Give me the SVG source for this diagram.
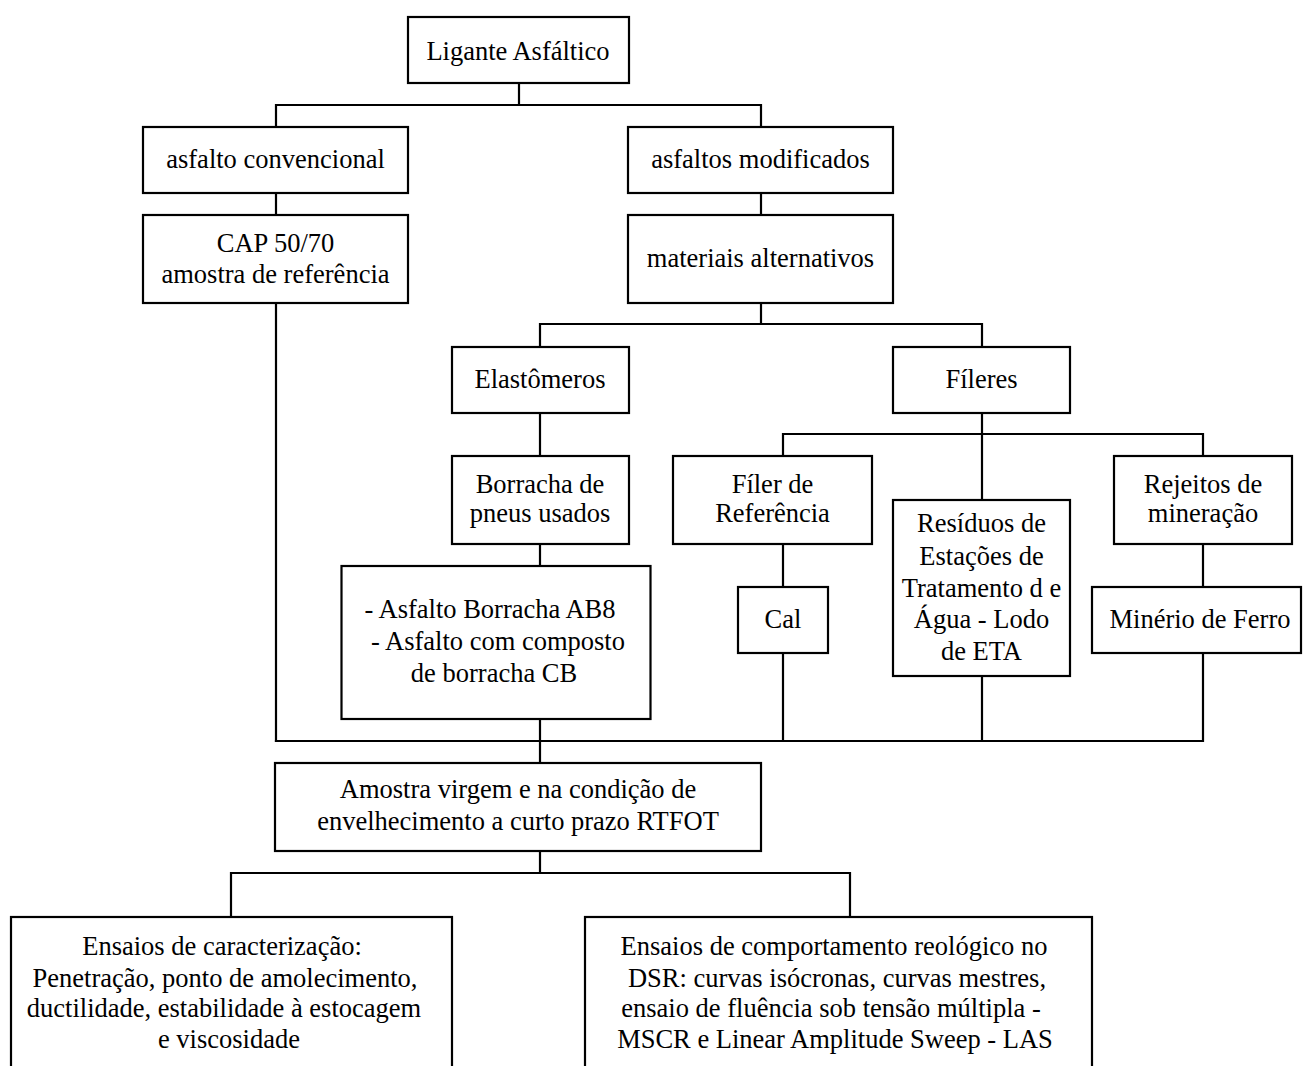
<svg xmlns="http://www.w3.org/2000/svg" width="1303" height="1066" viewBox="0 0 1303 1066">
  <style>
    .box { fill: #ffffff; stroke: #000000; stroke-width: 2.2; }
    .wire { fill: none; stroke: #000000; stroke-width: 2.2; stroke-linecap: square; }
    text { font-family: "Liberation Serif", "Times New Roman", serif; font-size: 26.5px; fill: #000000; text-anchor: middle; }
  </style>
  <rect x="0" y="0" width="1303" height="1066" fill="#ffffff"/>

  <!-- tree connectors -->
  <g id="connectors">
    <path class="wire" d="M519 83 V105 M276 105 H761 M276 105 V127 M761 105 V127"/>
    <path class="wire" d="M276 193 V215 M761 193 V215"/>
    <path class="wire" d="M276 303 V741"/>
    <path class="wire" d="M761 303 V324 M540 324 H982 M540 324 V347 M982 324 V347"/>
    <path class="wire" d="M540 413 V456 M540 544 V566 M540 719 V763"/>
    <path class="wire" d="M982 413 V434 M783 434 H1203 M783 434 V456 M982 434 V500 M1203 434 V456"/>
    <path class="wire" d="M783 544 V587 M1203 544 V587"/>
    <path class="wire" d="M783 653 V741 M982 676 V741 M1203 653 V741 M276 741 H1203"/>
    <path class="wire" d="M540 851 V873 M231 873 H850 M231 873 V917 M850 873 V917"/>
  </g>

  <g id="ligante">
    <rect class="box" x="408" y="17" width="221" height="66"/>
    <text x="518" y="60">Ligante Asfáltico</text>
  </g>

  <g id="convencional">
    <rect class="box" x="143" y="127" width="265" height="66"/>
    <text x="275.5" y="168">asfalto convencional</text>
  </g>

  <g id="modificados">
    <rect class="box" x="628" y="127" width="265" height="66"/>
    <text x="760.5" y="168">asfaltos modificados</text>
  </g>

  <g id="cap">
    <rect class="box" x="143" y="215" width="265" height="88"/>
    <text x="275.5" y="252">CAP 50/70</text>
    <text x="275.5" y="283">amostra de referência</text>
  </g>

  <g id="alternativos">
    <rect class="box" x="628" y="215" width="265" height="88"/>
    <text x="760.5" y="267">materiais alternativos</text>
  </g>

  <g id="elastomeros">
    <rect class="box" x="452" y="347" width="177" height="66"/>
    <text x="540" y="388">Elastômeros</text>
  </g>

  <g id="fileres">
    <rect class="box" x="893" y="347" width="177" height="66"/>
    <text x="981.5" y="388">Fíleres</text>
  </g>

  <g id="borracha">
    <rect class="box" x="452" y="456" width="177" height="88"/>
    <text x="540" y="493">Borracha de</text>
    <text x="540" y="522">pneus usados</text>
  </g>

  <g id="asfalto-borracha">
    <rect class="box" x="341.5" y="566" width="309" height="153"/>
    <text x="490" y="618">- Asfalto Borracha AB8</text>
    <text x="498" y="650">- Asfalto com composto</text>
    <text x="494" y="682">de borracha CB</text>
  </g>

  <g id="filer-referencia">
    <rect class="box" x="673" y="456" width="199" height="88"/>
    <text x="772.5" y="493">Fíler de</text>
    <text x="772.5" y="522">Referência</text>
  </g>

  <g id="residuos-eta">
    <rect class="box" x="893" y="500" width="177" height="176"/>
    <text x="981.5" y="532">Resíduos de</text>
    <text x="981.5" y="565">Estações de</text>
    <text x="981.5" y="597">Tratamento d e</text>
    <text x="981.5" y="628">Água - Lodo</text>
    <text x="981.5" y="660">de ETA</text>
  </g>

  <g id="rejeitos">
    <rect class="box" x="1114" y="456" width="178" height="88"/>
    <text x="1203" y="493">Rejeitos de</text>
    <text x="1203" y="522">mineração</text>
  </g>

  <g id="cal">
    <rect class="box" x="738" y="587" width="90" height="66"/>
    <text x="783" y="628">Cal</text>
  </g>

  <g id="minerio">
    <rect class="box" x="1092" y="587" width="209" height="66"/>
    <text x="1200" y="628">Minério de Ferro</text>
  </g>

  <g id="amostra">
    <rect class="box" x="275" y="763" width="486" height="88"/>
    <text x="518" y="798">Amostra virgem e na condição de</text>
    <text x="518" y="830">envelhecimento a curto prazo RTFOT</text>
  </g>

  <g id="caracterizacao">
    <rect class="box" x="11" y="917" width="441" height="160"/>
    <text x="222" y="955">Ensaios de caracterização:</text>
    <text x="225" y="987">Penetração, ponto de amolecimento,</text>
    <text x="224" y="1017">ductilidade, estabilidade à estocagem</text>
    <text x="229" y="1048">e viscosidade</text>
  </g>

  <g id="reologico">
    <rect class="box" x="585" y="917" width="507" height="160"/>
    <text x="834" y="955">Ensaios de comportamento reológico no</text>
    <text x="837" y="987">DSR: curvas isócronas, curvas mestres,</text>
    <text x="831" y="1017">ensaio de fluência sob tensão múltipla -</text>
    <text x="835" y="1048">MSCR e Linear Amplitude Sweep - LAS</text>
  </g>
</svg>
